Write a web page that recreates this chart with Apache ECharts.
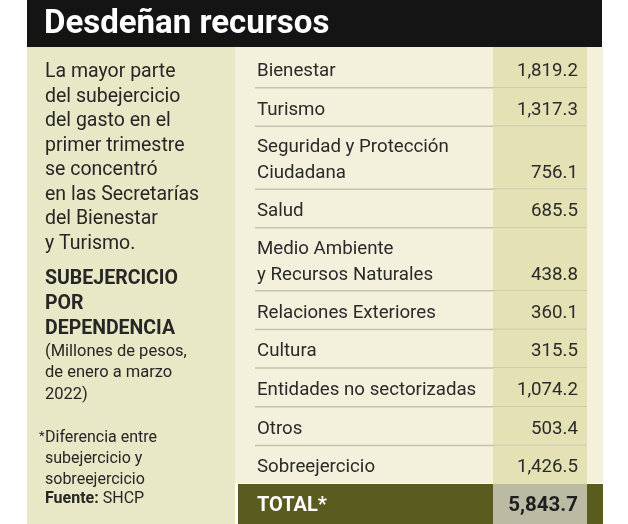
<!DOCTYPE html>
<html>
<head>
<meta charset="utf-8">
<script src="https://cdn.jsdelivr.net/npm/echarts@6/dist/echarts.min.js"></script>
<style>
  html, body { margin: 0; padding: 0; background: #fff; }
  #chart { width: 628px; height: 524px; }
</style>
</head>
<body>
<div id="chart"></div>
<script>
// datos: subejercicio por dependencia (millones de pesos, ene-mar 2022)
const dependencias = [
  'Bienestar',
  'Turismo',
  'Seguridad y Protección\nCiudadana',
  'Salud',
  'Medio Ambiente\ny Recursos Naturales',
  'Relaciones Exteriores',
  'Cultura',
  'Entidades no sectorizadas',
  'Otros',
  'Sobreejercicio'
];
const montos = [1819.2, 1317.3, 756.1, 685.5, 438.8, 360.1, 315.5, 1074.2, 503.4, 1426.5];
const etiquetaTotal = 'TOTAL*';
const montoTotal = 5843.7;

const titulo = 'Desdeñan recursos';
const textoIntro = 'La mayor parte\ndel subejercicio\ndel gasto en el\nprimer trimestre\nse concentró\nen las Secretarías\ndel Bienestar\ny Turismo.';
const textoEncabezado = 'SUBEJERCICIO\nPOR\nDEPENDENCIA';
const textoUnidades = '(Millones de pesos,\nde enero a marzo\n2022)';
const textoNota = 'Diferencia entre\nsubejercicio y\nsobreejercicio';

const FONT = 'Roboto';
const fmt = v => v.toLocaleString('en-US', { minimumFractionDigits: 1, maximumFractionDigits: 1 });

// alto de cada renglon segun numero de lineas
const ALTO_1 = 38.7, ALTO_2 = 63, ALTO_TOTAL = 40;
let filas = [];
let acum = 2; // margen arriba del primer renglon
filas.push([0, 0, -2]); // relleno del margen superior
dependencias.forEach((d, i) => {
  let h = d.indexOf('\n') >= 0 ? ALTO_2 : ALTO_1;
  filas.push([acum, acum + h, i]);
  acum += h;
});
filas.push([acum, acum + ALTO_TOTAL, -1]);
acum += ALTO_TOTAL;

let myChart = echarts.init(document.getElementById('chart'));

let option = {
  backgroundColor: '#ffffff',
  animation: false,
  grid: { left: 238, right: 25, top: 47, bottom: 0 },
  xAxis: { type: 'value', min: 0, max: 365, show: false },
  yAxis: { type: 'value', min: 0, max: acum, inverse: true, show: false },
  graphic: [
    // encabezado negro
    { type: 'rect', shape: { x: 27, y: 0, width: 575, height: 47 }, style: { fill: '#141414' }, z: -10 },
    { type: 'text', x: 44, y: 25, style: { text: titulo, fill: '#ffffff', font: 'bold 33px ' + FONT, textVerticalAlign: 'middle' } },
    // panel izquierdo
    { type: 'rect', shape: { x: 27, y: 47, width: 208, height: 477 }, style: { fill: '#e8e8c6' }, z: -10 },
    // panel derecho
    { type: 'rect', shape: { x: 235, y: 47, width: 368, height: 436 }, style: { fill: '#f3f1dc' }, z: -10 },
    { type: 'text', x: 45, y: 60, style: { text: textoIntro, fill: '#262626', font: '19.5px ' + FONT, lineHeight: 24.5 } },
    { type: 'text', x: 45, y: 267, style: { text: textoEncabezado, fill: '#262626', font: 'bold 19.5px ' + FONT, lineHeight: 25 } },
    { type: 'text', x: 45, y: 341, style: { text: textoUnidades, fill: '#262626', font: '16.5px ' + FONT, lineHeight: 21.5 } },
    { type: 'text', x: 39, y: 430, style: { text: '*', fill: '#262626', font: '13px ' + FONT } },
    { type: 'text', x: 45, y: 427, style: { text: textoNota, fill: '#262626', font: '16px ' + FONT, lineHeight: 21 } },
    { type: 'text', x: 45, y: 491, style: {
      text: '{b|Fuente:} SHCP', fill: '#262626', font: '16px ' + FONT,
      rich: { b: { fontWeight: 'bold', fontSize: 16, fontFamily: FONT, fill: '#262626' } }
    } }
  ],
  series: [{
    type: 'custom',
    data: filas,
    renderItem: function (params, api) {
      let idx = api.value(2);
      let top = api.coord([0, api.value(0)])[1];
      let bot = api.coord([0, api.value(1)])[1];
      if (idx === -2) return { type: 'group', children: [] };
      let esTotal = idx < 0;
      let xLinea0 = api.coord([17, 0])[0];
      let xCol0 = api.coord([255, 0])[0];
      let xCol1 = api.coord([349, 0])[0];
      let xTexto = api.coord([19, 0])[0];
      let xValor = api.coord([340, 0])[0];
      let xFin = api.coord([365, 0])[0];
      let xIni = api.coord([0, 0])[0];
      let etiqueta = esTotal ? etiquetaTotal : dependencias[idx];
      let valor = esTotal ? montoTotal : montos[idx];
      let nLineas = etiqueta.split('\n').length;
      let children = [];
      if (esTotal) {
        let yc = (top + bot) / 2 + 1.5;
        children.push({ type: 'rect', shape: { x: xIni, y: top, width: xFin - xIni, height: bot - top }, style: { fill: '#5a5b1e' } });
        children.push({ type: 'rect', shape: { x: xCol0, y: top, width: xCol1 - xCol0, height: bot - top }, style: { fill: '#babba2' } });
        children.push({ type: 'text', x: xTexto, y: yc, style: { text: etiqueta, fill: '#ffffff', font: 'bold 20px ' + FONT, textVerticalAlign: 'middle' } });
        children.push({ type: 'text', x: xValor, y: yc, style: { text: fmt(valor), fill: '#1e1e1e', font: 'bold 20.5px ' + FONT, textAlign: 'right', textVerticalAlign: 'middle' } });
      } else {
        let yc = (top + bot) / 2 + 3;
        // la columna de valores cubre tambien el margen superior
        let topCol = idx === 0 ? api.coord([0, 0])[1] : top;
        children.push({ type: 'rect', shape: { x: xCol0, y: topCol, width: xCol1 - xCol0, height: bot - topCol }, style: { fill: '#e4e2b4' } });
        if (idx < dependencias.length - 1) {
          children.push({ type: 'line', shape: { x1: xLinea0, y1: bot, x2: xCol1, y2: bot }, style: { stroke: '#c4c3ad', lineWidth: 1.5 } });
        }
        children.push({ type: 'text', x: xTexto, y: yc, style: { text: etiqueta, fill: '#2a2a2a', font: '18.7px ' + FONT, lineHeight: 26, textVerticalAlign: 'middle' } });
        children.push({ type: 'text', x: xValor, y: yc + (nLineas - 1) * 13, style: { text: fmt(valor), fill: '#2a2a2a', font: '18.7px ' + FONT, textAlign: 'right', textVerticalAlign: 'middle' } });
      }
      return { type: 'group', children: children };
    }
  }]
};

myChart.setOption(option);
</script>
</body>
</html>
